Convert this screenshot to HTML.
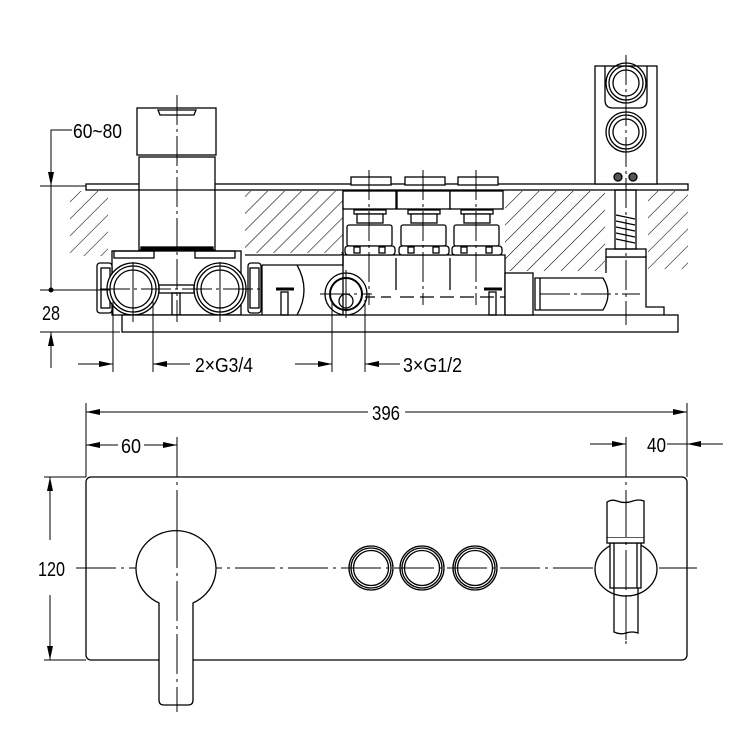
<!DOCTYPE html>
<html><head><meta charset="utf-8"><style>
html,body{margin:0;padding:0;background:#fff}
svg{display:block}
text{font-family:"Liberation Sans",sans-serif;font-size:20px;fill:#000}
</style></head><body>
<svg width="750" height="750" viewBox="0 0 750 750" xmlns="http://www.w3.org/2000/svg">
<defs>
<pattern id="h" width="12" height="12" patternUnits="userSpaceOnUse" patternTransform="rotate(45)">
<line x1="0" y1="0" x2="0" y2="12" stroke="#000" stroke-width="1.1"/>
</pattern>
<marker id="a" markerWidth="14" markerHeight="8" refX="14" refY="4" orient="auto" markerUnits="userSpaceOnUse">
<path d="M0,1 L14,4 L0,7 Z" fill="#000"/>
</marker>
</defs>
<g fill="none" stroke="#000" stroke-width="1.3">
<rect x="70" y="191" width="38" height="65" fill="url(#h)" stroke="none"/>
<rect x="245" y="191" width="98" height="62" fill="url(#h)" stroke="none"/>
<rect x="505" y="191" width="100" height="80" fill="url(#h)" stroke="none"/>
<rect x="648" y="191" width="40" height="78" fill="url(#h)" stroke="none"/>
<path d="M343,191 V255" />
<path d="M245,255 L340,255 Q343,255 343,252"/>
<rect x="86" y="184" width="602" height="6" fill="#fff"/>
<rect x="137" y="108" width="79" height="47" fill="#fff"/>
<path d="M158,110 h38 l-2,5 h-34 z"/>
<rect x="139" y="157" width="76" height="93" fill="#fff"/>
<line x1="139" y1="190" x2="215" y2="190"/>
<rect x="141" y="247" width="72" height="4" fill="#000"/>
<rect x="112" y="251" width="129" height="64" fill="#fff"/>
<rect x="114" y="251" width="40" height="7"/><rect x="195" y="251" width="40" height="7"/>
<rect x="97" y="263" width="15" height="50" rx="3" fill="#fff"/>
<rect x="101" y="268" width="9" height="40"/>
<rect x="248" y="263" width="13" height="50" rx="3" fill="#fff"/>
<rect x="250" y="268" width="9" height="40"/>
<circle cx="133" cy="289" r="26" fill="#fff"/><circle cx="133" cy="289" r="23"/><circle cx="133" cy="289" r="19"/>
<circle cx="220" cy="289" r="26" fill="#fff"/><circle cx="220" cy="289" r="23"/><circle cx="220" cy="289" r="19"/>
<rect x="159" y="285" width="35" height="8"/>
<rect x="172" y="293" width="8" height="22"/>
<rect x="122" y="315" width="556" height="17" fill="#fff"/>
<path d="M262,265 H343 V253"/>
<line x1="262" y1="315" x2="262" y2="265"/>
<path d="M297,265 q14,25 0,50"/>
<line x1="276" y1="289" x2="294" y2="289" stroke-width="3"/>
<rect x="281" y="292" width="7" height="23"/>
<circle cx="346" cy="294" r="21" fill="#fff"/><circle cx="346" cy="294" r="16" stroke-width="2"/><circle cx="346" cy="301" r="7"/>
<path d="M343,255 V315 M505,270 V315 M343,255 H505 V270"/>
<g id="c1">
<rect x="351" y="177" width="40" height="8" fill="#fff"/>
<rect x="343" y="191" width="53" height="18" fill="#fff"/>
<rect x="354" y="210" width="32" height="4"/>
<rect x="357" y="214" width="26" height="9" fill="#fff"/>
<rect x="347" y="225" width="45" height="21" rx="2" fill="#fff"/>
<rect x="345" y="246" width="50" height="9" rx="3" fill="#fff"/>
<rect x="354" y="247" width="6" height="6"/><rect x="379" y="247" width="6" height="6"/>
</g>
<use href="#c1" x="54"/><use href="#c1" x="107"/>
<line x1="365" y1="297" x2="393" y2="297" stroke-dasharray="10,6"/>
<line x1="400" y1="297" x2="505" y2="297" stroke-dasharray="14,6"/>
<line x1="396" y1="258" x2="396" y2="290"/><line x1="450" y1="258" x2="450" y2="290"/>
<line x1="484" y1="289" x2="502" y2="289" stroke-width="3"/>
<rect x="489" y="292" width="7" height="23"/>
<rect x="505" y="273" width="28" height="42" fill="#fff"/>
<path d="M535,278 H603 Q613,294 603,310 H535 Z" fill="#fff"/>
<line x1="540" y1="278" x2="540" y2="310"/>
<path d="M606,257 H646 V307 H664 V315 M606,257 V273"/>
<rect x="606" y="249" width="40" height="8" fill="#fff"/>
<rect x="615" y="190" width="21" height="59"/>
<path d="M616,215 L635,219 M616,221 L635,225 M616,227 L635,231 M616,233 L635,237 M616,239 L635,243"/>
<rect x="595" y="66" width="62" height="118" fill="#fff"/>
<path d="M605,66 V100 q0,8 8,8 H639 q8,0 8,-8 V66"/>
<circle cx="626" cy="83" r="20"/><circle cx="626" cy="83" r="17"/><circle cx="626" cy="83" r="13"/>
<circle cx="626" cy="132" r="20"/><circle cx="626" cy="132" r="17"/><circle cx="626" cy="132" r="13"/>
<circle cx="618" cy="177" r="4" fill="#555"/><circle cx="633" cy="177" r="4" fill="#555"/>
</g>
<g stroke="#000" stroke-width="1" fill="none" stroke-dasharray="30,4,3,4">
<line x1="177" y1="95" x2="177" y2="322"/>
<line x1="369" y1="170" x2="369" y2="305"/><line x1="423" y1="170" x2="423" y2="305"/><line x1="476" y1="170" x2="476" y2="305"/>
<line x1="626" y1="55" x2="626" y2="325"/>
<line x1="100" y1="289" x2="262" y2="289"/>
<line x1="320" y1="294" x2="372" y2="294"/>
<line x1="540" y1="294" x2="640" y2="294"/>
</g>
<g stroke="#000" stroke-width="1" fill="none">
<line x1="133" y1="262" x2="133" y2="322"/><line x1="220" y1="262" x2="220" y2="322"/>
<line x1="346" y1="270" x2="346" y2="318"/>
<path d="M72,130 H51 V186" marker-end="url(#a)"/>
<line x1="40" y1="186" x2="86" y2="186"/>
<line x1="40" y1="290" x2="110" y2="290"/><line x1="51" y1="186" x2="51" y2="290"/>
<line x1="40" y1="332" x2="120" y2="332"/>
<path d="M51,368 V332" marker-end="url(#a)"/>
<line x1="113" y1="300" x2="113" y2="372"/><line x1="153" y1="300" x2="153" y2="372"/>
<path d="M78,364 H113" marker-end="url(#a)"/><path d="M190,364 H153" marker-end="url(#a)"/>
<line x1="332" y1="300" x2="332" y2="372"/><line x1="365" y1="300" x2="365" y2="372"/>
<path d="M295,364 H332" marker-end="url(#a)"/><path d="M400,364 H365" marker-end="url(#a)"/>
</g>
<circle cx="51" cy="290" r="2.5" fill="#000"/>
<text x="73" y="138" textLength="49" lengthAdjust="spacingAndGlyphs">60~80</text>
<text x="42" y="320" textLength="18" lengthAdjust="spacingAndGlyphs">28</text>
<text x="195" y="372" textLength="58" lengthAdjust="spacingAndGlyphs">2×G3/4</text>
<text x="403" y="372" textLength="59" lengthAdjust="spacingAndGlyphs">3×G1/2</text>
<g stroke="#000" stroke-width="1" fill="none">
<line x1="86" y1="403" x2="86" y2="477"/><line x1="687" y1="403" x2="687" y2="477"/>
<path d="M368,412 H86" marker-end="url(#a)"/><path d="M405,412 H687" marker-end="url(#a)"/>
<path d="M118,445 H86" marker-end="url(#a)"/><path d="M144,445 H177" marker-end="url(#a)"/>
<path d="M590,444 H626" marker-end="url(#a)"/><path d="M723,444 H687" marker-end="url(#a)"/>
<line x1="667" y1="444" x2="687" y2="444"/>
<line x1="44" y1="477" x2="86" y2="477"/><line x1="44" y1="660" x2="86" y2="660"/>
<path d="M50,540 V477" marker-end="url(#a)"/><path d="M50,595 V660" marker-end="url(#a)"/>
<g stroke-dasharray="40,5,3,5">
<line x1="76" y1="568" x2="697" y2="568"/>
<line x1="177" y1="437" x2="177" y2="712"/>
<line x1="626" y1="437" x2="626" y2="648"/>
</g>
</g>
<text x="372" y="420" textLength="28" lengthAdjust="spacingAndGlyphs">396</text>
<text x="121" y="453" textLength="20" lengthAdjust="spacingAndGlyphs">60</text>
<text x="647" y="452" textLength="19" lengthAdjust="spacingAndGlyphs">40</text>
<text x="38" y="576" textLength="27" lengthAdjust="spacingAndGlyphs">120</text>
<g stroke="#000" stroke-width="1.3" fill="none">
<rect x="86" y="477" width="601" height="183" rx="5"/>
<path d="M159,603 A40,38 0 1 1 193,603 V700 q0,5 -5,5 H164 q-5,0 -5,-5 Z" fill="#fff"/>
<circle cx="371" cy="568" r="22"/><circle cx="371" cy="568" r="20"/><circle cx="371" cy="568" r="17.5"/>
<circle cx="422" cy="568" r="22"/><circle cx="422" cy="568" r="20"/><circle cx="422" cy="568" r="17.5"/>
<circle cx="475" cy="568" r="22"/><circle cx="475" cy="568" r="20"/><circle cx="475" cy="568" r="17.5"/>
<ellipse cx="626" cy="569" rx="31" ry="27" fill="#fff"/>
<rect x="610" y="543" width="31" height="45" fill="#fff"/>
<line x1="614" y1="543" x2="614" y2="588"/><line x1="637" y1="543" x2="637" y2="588"/>
<rect x="607" y="537" width="37" height="6" fill="#fff"/>
<path d="M607,537 V502 q5,-3 10,-1 q8,3 16,0 q6,-2 11,0 V537" fill="#fff"/>
<path d="M614,588 V632 q6,3 12,1 q6,-2 12,0 V588"/>
</g>
<line x1="626" y1="497" x2="626" y2="640" stroke="#000" stroke-width="1" stroke-dasharray="40,5,3,5"/>
<line x1="177" y1="528" x2="177" y2="705" stroke="#000" stroke-width="1" stroke-dasharray="40,5,3,5"/>
</svg>
</body></html>
